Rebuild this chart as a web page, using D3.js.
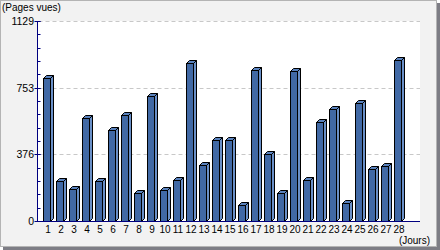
<!DOCTYPE html>
<html>
<head>
<meta charset="utf-8">
<script src="https://cdn.jsdelivr.net/npm/d3@7"></script>
<style>
  body { margin: 0; background: #fff; }
  svg text { font-family: "Liberation Sans", Arial, sans-serif; fill: #000; }
</style>
</head>
<body>
<div id="chart"></div>
<script>
// page views per day
var days = [1, 2, 3, 4, 5, 6, 7, 8, 9, 10, 11, 12, 13, 14, 15, 16, 17, 18, 19, 20, 21, 22, 23, 24, 25, 26, 27, 28];
var views = [811, 230, 185, 586, 230, 515, 601, 161, 708, 180, 236, 897, 320, 461, 461, 95, 854, 380, 159, 850, 234, 563, 635, 107, 670, 299, 311, 910];
var yMax = 1129;
var yTickLabels = ["0", "376", "753", "1129"];
var yLabel = "(Pages vues)";
var xLabel = "(Jours)";

(function() {
    var W = 440, H = 250;
    var pLeft = 37.5, pRight = 420, pTop = 21.5, pBottom = 221.5;
    var depth = 3, barW = 7;

    var svg = d3.select("#chart").append("svg")
        .attr("width", W)
        .attr("height", H);

    // background + shadow
    svg.append("rect").attr("x", 0).attr("y", 0).attr("width", W).attr("height", H).attr("fill", "#fff");
    svg.append("rect").attr("x", 3).attr("y", 3).attr("width", W - 3).attr("height", H - 3).attr("fill", "#7d7d85");
    svg.append("rect").attr("x", 0).attr("y", 0).attr("width", W - 3).attr("height", H - 3).attr("fill", "#f2f2f2");
    svg.append("rect").attr("x", 0.5).attr("y", 0.5).attr("width", W - 4).attr("height", H - 4)
        .attr("fill", "none").attr("stroke", "#b4b4b4");

    // plot area
    svg.append("rect")
        .attr("x", pLeft).attr("y", pTop - 0.5)
        .attr("width", pRight - pLeft).attr("height", pBottom - pTop + 0.5)
        .attr("fill", "#fff");

    var x = d3.scaleBand().domain(days).range([38, 38 + 13 * days.length]).padding(0);
    var y = d3.scaleLinear().domain([0, yMax]).range([pBottom, pTop]);

    var majors = d3.range(4).map(function(i) { return yMax * i / 3; });
    var minors = d3.range(16).map(function(i) { return yMax * i / 15; });

    // grid
    svg.selectAll(".grid")
        .data(majors.slice(1))
        .enter().append("line")
        .attr("x1", pLeft + 1).attr("x2", pRight)
        .attr("y1", function(d) { return Math.round(y(d) - 0.5) + 0.5; })
        .attr("y2", function(d) { return Math.round(y(d) - 0.5) + 0.5; })
        .attr("stroke", "#c8c8c8")
        .attr("stroke-dasharray", "4,3");

    // bars
    var g = svg.append("g");
    days.forEach(function(d, i) {
        var x0 = Math.round(x(d) + 5) + 0.5;
        var yt = Math.round(y(views[i])) + 0.5;
        var yb = pBottom;
        // side
        g.append("path")
            .attr("d", "M" + (x0 + barW) + "," + yt + "L" + (x0 + barW + depth) + "," + (yt - depth) +
                "L" + (x0 + barW + depth) + "," + (yb - depth) + "L" + (x0 + barW) + "," + yb + "Z")
            .attr("fill", "#6a90c8").attr("stroke", "#000");
        // top
        g.append("path")
            .attr("d", "M" + x0 + "," + yt + "L" + (x0 + depth) + "," + (yt - depth) +
                "L" + (x0 + barW + depth) + "," + (yt - depth) + "L" + (x0 + barW) + "," + yt + "Z")
            .attr("fill", "#5a82bd").attr("stroke", "#000");
        // front
        g.append("rect")
            .attr("x", x0).attr("y", yt)
            .attr("width", barW).attr("height", yb - yt)
            .attr("fill", "#4169a5").attr("stroke", "#000");
    });

    // axes
    svg.append("line").attr("x1", pLeft).attr("x2", pLeft).attr("y1", pTop - 0.5).attr("y2", pBottom)
        .attr("stroke", "#000080");
    svg.append("line").attr("x1", pLeft).attr("x2", pRight).attr("y1", pBottom).attr("y2", pBottom)
        .attr("stroke", "#000080");

    svg.selectAll(".minor")
        .data(minors)
        .enter().append("line")
        .attr("x1", pLeft).attr("x2", pLeft + 3)
        .attr("y1", function(d) { return Math.round(y(d) - 0.5) + 0.5; })
        .attr("y2", function(d) { return Math.round(y(d) - 0.5) + 0.5; })
        .attr("stroke", "#000080");

    svg.selectAll(".major")
        .data(majors)
        .enter().append("line")
        .attr("x1", pLeft - 3).attr("x2", pLeft + 3)
        .attr("y1", function(d) { return Math.round(y(d) - 0.5) + 0.5; })
        .attr("y2", function(d) { return Math.round(y(d) - 0.5) + 0.5; })
        .attr("stroke", "#000080");

    svg.selectAll(".ylab")
        .data(majors)
        .enter().append("text")
        .attr("x", 34)
        .attr("y", function(d) { return y(d) + 3.5; })
        .attr("text-anchor", "end")
        .attr("font-size", "10.5px")
        .text(function(d, i) { return yTickLabels[i]; });

    svg.selectAll(".xlab")
        .data(days)
        .enter().append("text")
        .attr("x", function(d) { return x(d) + 5 + barW / 2 + 1.5; })
        .attr("y", 233)
        .attr("text-anchor", "middle")
        .attr("font-size", "10px")
        .text(function(d) { return d; });

    svg.append("text").attr("x", 2).attr("y", 10.5).attr("font-size", "10px").text(yLabel);
    svg.append("text").attr("x", 430).attr("y", 244).attr("text-anchor", "end").attr("font-size", "10px").text(xLabel);
})();
</script>
</body>
</html>
